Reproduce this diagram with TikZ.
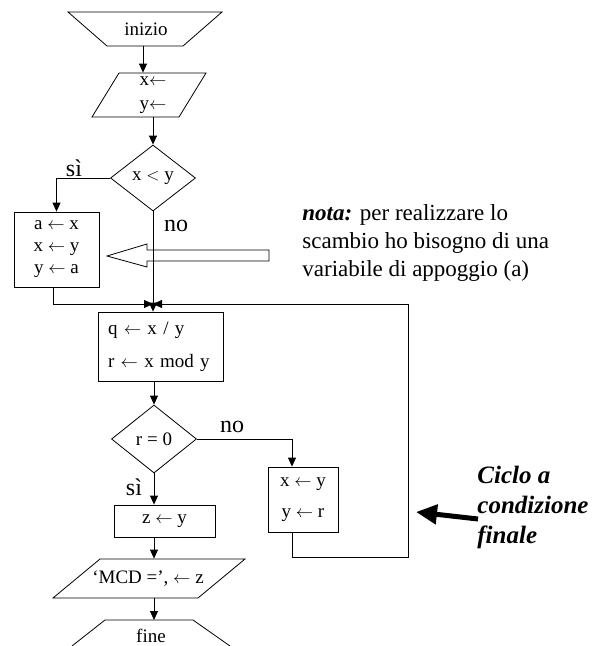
\documentclass[tikz,border=0pt]{standalone}
\usepackage{fontspec}
\setmainfont{Liberation Serif}
\usetikzlibrary{arrows.meta,shapes.geometric}
\newcommand{\lar}{\ensuremath{\leftarrow}}
\begin{document}
\begin{tikzpicture}[x=1pt,y=-1pt, line width=0.8pt,
  txt/.style={font=\fontsize{19}{22}\selectfont},
  lbl/.style={font=\fontsize{24}{28}\selectfont, inner sep=0pt},
  box/.style={draw, rectangle, inner sep=0pt, txt, align=center},
  dia/.style={draw, diamond, inner sep=0pt, txt},
  hid/.style={rectangle, inner sep=0pt, txt, align=center},
  arr/.style={-{Triangle[length=9pt,width=8pt]}},
]
\useasboundingbox (0,0) rectangle (595,646);
% columns
\coordinate (cA) at (143,0);
\coordinate (cB) at (153,0);
\coordinate (cC) at (154,0);
\coordinate (cD) at (292,0);
\coordinate (cL) at (53,0);
\coordinate (m) at (153,304);
\coordinate (lp) at (408,557);
\coordinate (finTop) at (154,620);
% start
\draw (68,12) -- (222,12) -- (183,46) -- (107,46) -- cycle;
\node[hid, minimum width=76pt, minimum height=34pt] (ini) at (146,29) {inizio};
% input
\draw (119,73) -- (206,73) -- (179,117) -- (92,117) -- cycle;
\node[hid, minimum height=44pt, font=\fontsize{19}{24}\selectfont] (inp) at (153,95) {x\lar\\y\lar};
% decision 1
\node[dia, minimum width=85pt, minimum height=66pt] (d1) at (153,178) {x $<$ y};
% swap box
\node[box, minimum width=85pt, minimum height=75pt] (a) at (56.5,249.5) {a \lar{} x\\x \lar{} y\\y \lar{} a};
% hollow arrow
\draw[fill=white] (269,250) -- (147,250) -- (147,244) -- (107,256) -- (147,267) -- (147,261) -- (269,261) -- cycle;
% q box
\node[box, align=left, text width=105pt, inner xsep=10pt, minimum height=69pt, font=\fontsize{19}{33}\selectfont] (q) at (160.5,346.5) {q \lar{} x / y\\r \lar{} x mod y};
% decision 2
\node[dia, minimum width=85pt, minimum height=68pt] (d2) at (154,439) {r = 0};
% xy box
\node[box, minimum width=70pt, minimum height=65pt, font=\fontsize{19}{31}\selectfont] (xy) at (303,499.5) {x \lar{} y\\y \lar{} r};
% z box
\node[box, minimum width=101pt, minimum height=32pt] (z) at (164.5,521) {z \lar{} y};
% output
\draw (100,559) -- (245,559) -- (198,598) -- (53,598) -- cycle;
\node[hid, minimum height=39pt] (mcd) at (148,578.5) {‘MCD =’, \lar{} z};
% end
\draw (72,646) -- (105,620) -- (193,620) -- (230,646);
\node[hid, anchor=base] (fin) at (151,642) {fine};
% connectors
\draw[arr] (ini.south -| cA) -- (inp.north -| cA);
\draw[arr] (inp.south -| cB) -- (d1.north);
\draw[arr] (d1.west) -| (a.north);
\draw[arr] (d1.south) -- (d1.south |- q.north);
\draw[arr] (a.south -| cL) |- (m);
\draw[arr] (xy.south -| cD) |- (lp) |- (m);
\draw[arr] (q.south -| cC) -- (d2.north);
\draw[arr] (d2.east) -| (xy.north -| cD);
\draw[arr] (d2.south) -- (d2.south |- z.north);
\draw[arr] (z.south -| cC) -- (mcd.north -| cC);
\draw[arr] (mcd.south -| cC) -- (finTop);
% labels
\node[lbl] (si1) at (74,168) {sì};
\node[lbl] (no1) at (176,226) {no};
\node[lbl] (no2) at (232,427) {no};
\node[lbl] (si2) at (134,487) {sì};
% note
\node[anchor=north west, align=left, inner sep=0pt, font=\fontsize{23}{28}\selectfont] (nota) at (302,204) {\textbf{\textit{nota:}} per realizzare lo\\scambio ho bisogno di una\\variabile di appoggio (a)};
% loop comment
\node[anchor=north west, align=left, inner sep=0pt, font=\fontsize{25}{30}\selectfont\bfseries\itshape] (cyc) at (477,466) {Ciclo a\\condizione\\finale};
\coordinate (tailC) at (478,519);
\coordinate (tipC) at (416,512);
\draw[line width=5pt, -{Triangle[length=21pt,width=19pt]}] (tailC) -- (tipC);
\end{tikzpicture}
\end{document}
